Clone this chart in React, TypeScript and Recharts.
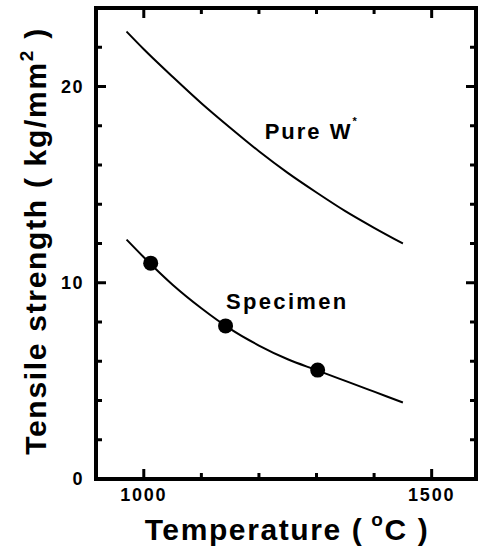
import React from "react";
import { ComposedChart, Line, Scatter, XAxis, YAxis, ReferenceDot, ReferenceArea } from "recharts";

// fitted curves, sampled along temperature (°C)
const curveTemps = [970, 1000, 1050, 1100, 1150, 1200, 1250, 1300, 1350, 1400, 1450];
const pureW = [22.8, 21.9, 20.5, 19.15, 17.9, 16.7, 15.6, 14.6, 13.65, 12.8, 12.0];
const specimenFit = [12.2, 11.3, 9.9, 8.7, 7.65, 6.8, 6.1, 5.55, 5.0, 4.45, 3.9];

// measured specimen points
const measuredTemps = [1012, 1142, 1302];
const measuredStrength = [11.0, 7.8, 5.55];

const xTicks = [1000, 1100, 1200, 1300, 1400, 1500];
const xLabelled = [1000, 1500];
const yTicks = [0, 2, 4, 6, 8, 10, 12, 14, 16, 18, 20, 22];
const yLabelled = [0, 10, 20];

const X_DOMAIN: [number, number] = [917, 1577];
const Y_DOMAIN: [number, number] = [0, 24];

const pureWData = curveTemps.map((t, i) => ({ temp: t, strength: pureW[i] }));
const fitData = curveTemps.map((t, i) => ({ temp: t, strength: specimenFit[i] }));
const pointData = measuredTemps.map((t, i) => ({ temp: t, strength: measuredStrength[i] }));

const W = 485;
const H = 556;
const MARGIN = { top: 8, right: 9, left: 0, bottom: 0 };
const Y_AXIS_W = 96;
const X_AXIS_H = 77;
// plot box size, used to mirror the ticks onto the top and right edges
const PLOT_W = W - MARGIN.right - Y_AXIS_W;
const PLOT_H = H - MARGIN.top - X_AXIS_H;

const FONT = "'Liberation Sans', Arial, Helvetica, sans-serif";
const INK = "#000";
const frameLine = { stroke: INK, strokeWidth: 4 };

// inward tick marks on both opposite edges, long ones on the labelled values
function bottomTick(p: any) {
  const major = xLabelled.includes(p.payload.value);
  const len = major ? 10 : 6;
  const top = p.y - PLOT_H;
  return (
    <g key={`b-${p.payload.value}`}>
      <line x1={p.x} x2={p.x} y1={p.y} y2={p.y - len} stroke={INK} strokeWidth={3} />
      <line x1={p.x} x2={p.x} y1={top} y2={top + len} stroke={INK} strokeWidth={3} />
      {major && (
        <text x={p.x} y={p.y + 22} textAnchor="middle" fontFamily={FONT} fontWeight="bold" fontSize={18} letterSpacing={1.8} fill={INK}>
          {p.payload.value}
        </text>
      )}
    </g>
  );
}

function leftTick(p: any) {
  const major = yLabelled.includes(p.payload.value);
  const len = major ? 10 : 6;
  const right = p.x + PLOT_W;
  return (
    <g key={`l-${p.payload.value}`}>
      <line x1={p.x} x2={p.x + len} y1={p.y} y2={p.y} stroke={INK} strokeWidth={3} />
      <line x1={right} x2={right - len} y1={p.y} y2={p.y} stroke={INK} strokeWidth={3} />
      {major && (
        <text x={p.x - 12} y={p.y} dy="0.36em" textAnchor="end" fontFamily={FONT} fontWeight="bold" fontSize={18} letterSpacing={1.5} fill={INK}>
          {p.payload.value}
        </text>
      )}
    </g>
  );
}

const Dot = (p: any) => <circle cx={p.cx} cy={p.cy} r={7.5} fill={INK} />;

export default function App() {
  return (
    <div style={{ position: "absolute", left: 0, top: 0, background: "#fff" }}>
      <ComposedChart width={W} height={H} margin={MARGIN}>
        <XAxis
          xAxisId="main"
          dataKey="temp"
          type="number"
          domain={X_DOMAIN}
          allowDataOverflow
          ticks={xTicks}
          interval={0}
          height={X_AXIS_H}
          axisLine={frameLine}
          tickLine={false}
          tickSize={0.001}
          tickMargin={0.001}
          tick={bottomTick}
          label={{
            content: () => (
              <text x={287} y={540} textAnchor="middle" fontFamily={FONT} fontWeight="bold" fontSize={30} letterSpacing={1.6} fill={INK}>
                Temperature (<tspan dx={8} dy={-14} fontSize={19}>o</tspan>
                <tspan dy={14}>C )</tspan>
              </text>
            ),
          }}
        />
        <YAxis
          yAxisId="main"
          type="number"
          domain={Y_DOMAIN}
          allowDataOverflow
          ticks={yTicks}
          interval={0}
          width={Y_AXIS_W}
          axisLine={frameLine}
          tickLine={false}
          tickSize={0.001}
          tickMargin={0.001}
          tick={leftTick}
          label={{
            content: () => (
              <text
                x={46}
                y={241}
                transform="rotate(-90 46 241)"
                textAnchor="middle"
                fontFamily={FONT}
                fontWeight="bold"
                fontSize={30}
                letterSpacing={1.7}
                fill={INK}
              >
                Tensile strength ( kg/mm<tspan dy={-13} fontSize={19}>2</tspan>
                <tspan dy={13}> )</tspan>
              </text>
            ),
          }}
        />
        {/* closed plot frame */}
        <ReferenceArea
          xAxisId="main"
          yAxisId="main"
          x1={X_DOMAIN[0]}
          x2={X_DOMAIN[1]}
          y1={Y_DOMAIN[0]}
          y2={Y_DOMAIN[1]}
          fill="none"
          stroke={INK}
          strokeWidth={4}
          ifOverflow="visible"
        />
        <Line
          xAxisId="main"
          yAxisId="main"
          data={pureWData}
          dataKey="strength"
          type="monotone"
          stroke={INK}
          strokeWidth={2}
          dot={false}
          isAnimationActive={false}
        />
        <Line
          xAxisId="main"
          yAxisId="main"
          data={fitData}
          dataKey="strength"
          type="monotone"
          stroke={INK}
          strokeWidth={2}
          dot={false}
          isAnimationActive={false}
        />
        <Scatter
          xAxisId="main"
          yAxisId="main"
          data={pointData}
          dataKey="strength"
          fill={INK}
          shape={<Dot />}
          isAnimationActive={false}
        />
        <ReferenceDot
          xAxisId="main"
          yAxisId="main"
          x={1210}
          y={17.35}
          r={0}
          shape={(p: any) => (
            <text x={p.cx} y={p.cy} fontFamily={FONT} fontWeight="bold" fontSize={22} letterSpacing={2} fill={INK}>
              Pure W<tspan dy={-14} fontSize={11}>*</tspan>
            </text>
          )}
        />
        <ReferenceDot
          xAxisId="main"
          yAxisId="main"
          x={1143}
          y={8.65}
          r={0}
          shape={(p: any) => (
            <text x={p.cx} y={p.cy} fontFamily={FONT} fontWeight="bold" fontSize={22} letterSpacing={2.3} fill={INK}>
              Specimen
            </text>
          )}
        />
      </ComposedChart>
    </div>
  );
}
